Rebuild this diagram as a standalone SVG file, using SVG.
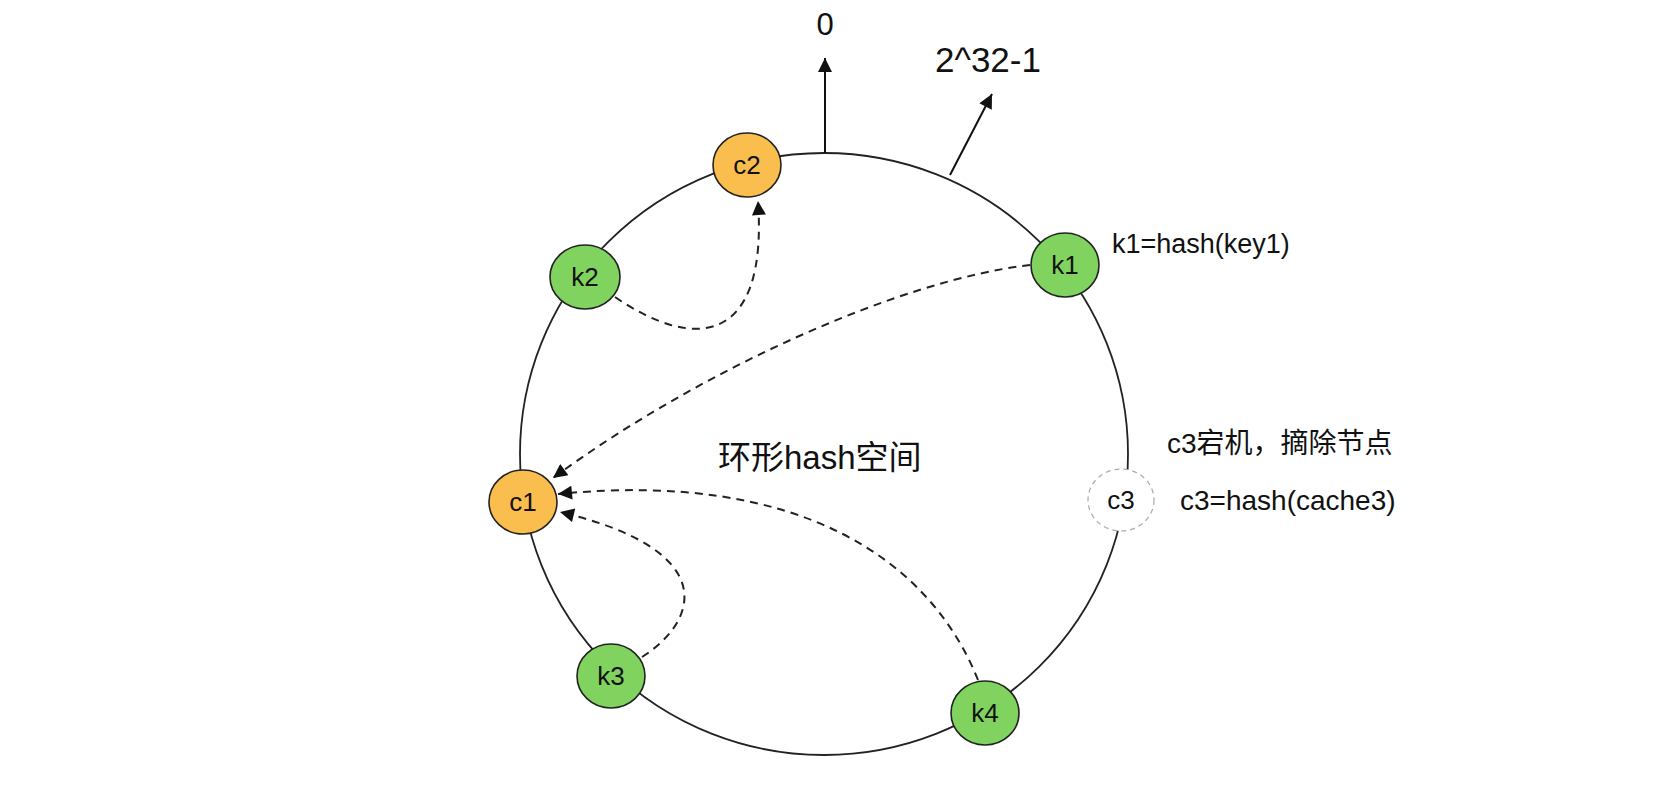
<svg xmlns="http://www.w3.org/2000/svg" width="1654" height="792" viewBox="0 0 1654 792">
<style>
.ring{fill:none;stroke:#222;stroke-width:1.8}
.orange{fill:#FABE4E;stroke:#222;stroke-width:1.6}
.green{fill:#80D35E;stroke:#222;stroke-width:1.6}
.gone{fill:#fff;stroke:#aaa;stroke-width:1.2;stroke-dasharray:5 4}
.lbl{font-family:"Liberation Sans",Arial,sans-serif;font-size:26px;fill:#111;text-anchor:middle}
.txt{font-family:"Liberation Sans","Noto Sans CJK SC",sans-serif;fill:#111}
.solid{fill:none;stroke:#111;stroke-width:2}
.dash{fill:none;stroke:#222;stroke-width:2;stroke-dasharray:8 6}
</style>
<defs>
<marker id="ah2" viewBox="0 0 10 10" refX="10" refY="5" markerWidth="16" markerHeight="14" markerUnits="userSpaceOnUse" orient="auto">
<path d="M0,0 L10,5 L0,10 z" fill="#111"/>
</marker>
</defs>
<rect width="1654" height="792" fill="#fff"/>
<ellipse class="ring" cx="824" cy="454" rx="304" ry="301"/>
<g id="connectors">
<path class="solid" d="M825,153 L825,58" marker-end="url(#ah2)"/>
<path class="solid" d="M950,175 L992,94" marker-end="url(#ah2)"/>
<path class="dash" d="M615,297 C695,352 768,345 758,201" marker-end="url(#ah2)"/>
<path class="dash" d="M1030,265 C900,280 700,370 553,478" marker-end="url(#ah2)"/>
<path class="dash" d="M978,680 C930,560 800,470 558,494" marker-end="url(#ah2)"/>
<path class="dash" d="M642,657 C700,620 720,550 560,512" marker-end="url(#ah2)"/>
</g>
<g id="c2"><ellipse class="orange" cx="747" cy="165" rx="34" ry="32"/><text class="lbl" x="747" y="174">c2</text></g>
<g id="k2"><ellipse class="green" cx="585" cy="277" rx="35" ry="32"/><text class="lbl" x="585" y="286">k2</text></g>
<g id="k1"><ellipse class="green" cx="1065" cy="265" rx="34" ry="32"/><text class="lbl" x="1065" y="274">k1</text></g>
<g id="c1"><ellipse class="orange" cx="523" cy="502" rx="34" ry="32"/><text class="lbl" x="523" y="511">c1</text></g>
<g id="c3"><ellipse class="gone" cx="1121" cy="500" rx="33" ry="31"/><text class="lbl" x="1121" y="509">c3</text></g>
<g id="k3"><ellipse class="green" cx="611" cy="676" rx="34" ry="32"/><text class="lbl" x="611" y="685">k3</text></g>
<g id="k4"><ellipse class="green" cx="985" cy="713" rx="34" ry="32"/><text class="lbl" x="985" y="722">k4</text></g>
<g id="labels">
<text class="txt" x="825" y="35" font-size="31" text-anchor="middle">0</text>
<text class="txt" x="935" y="72" font-size="35">2^32-1</text>
<text class="txt" x="1112" y="253" font-size="27">k1=hash(key1)</text>
<text class="txt" x="1167" y="453" font-size="28">c3宕机，摘除节点</text>
<text class="txt" x="1180" y="510" font-size="28">c3=hash(cache3)</text>
<text class="txt" x="718" y="469" font-size="33">环形hash空间</text>
</g>
</svg>
